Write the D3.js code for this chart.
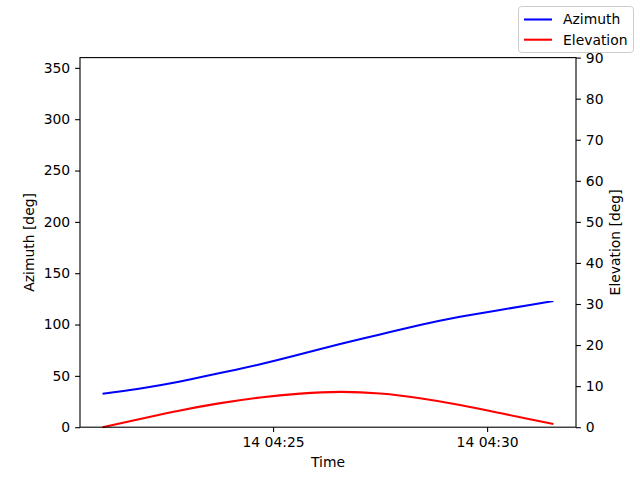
<!DOCTYPE html>
<html><head><meta charset="utf-8">
<script src="https://cdn.jsdelivr.net/npm/d3@7"></script>
<style>body{margin:0;background:#fff}svg{display:block;font-family:"DejaVu Sans",sans-serif}</style>
</head><body><svg id="c" width="640" height="480"></svg>
<script>
const times = ["04:21:01","04:21:52","04:22:48","04:23:44","04:24:42","04:25:38","04:26:34","04:27:30","04:28:26","04:29:22","04:30:18","04:31:00","04:31:33"];
const azimuth = [32.6,37.5,44.3,52.5,61.3,71.0,81.0,90.3,99.5,107.6,114.2,119.0,123.0];
const elevation = [0.0,1.95,4.02,5.8,7.25,8.18,8.6,8.2,7.05,5.4,3.45,1.95,0.78];
const xTicks = ["04:25:00","04:30:00"];
const azTicks = [0,50,100,150,200,250,300,350];
const elTicks = [0,10,20,30,40,50,60,70,80,90];

const parse = s => new Date("2021-01-14T" + s + "Z");
const fmt = d3.utcFormat("%d %H:%M");
const svg = d3.select("#c");
const L=80,R=576,T=57.6,B=427.2;
const t = times.map(parse);
const span = t[t.length-1]-t[0];
const x = d3.scaleUtc().domain([new Date(+t[0]-span*0.05), new Date(+t[t.length-1]+span*0.05)]).range([L,R]);
const yA = d3.scaleLinear().domain([0,360]).range([B,T]);
const yE = d3.scaleLinear().domain([0,90]).range([B,T]);

function style(g){
  g.selectAll(".domain").remove();
  g.selectAll("line").attr("stroke","#000").attr("stroke-width",1.1);
  g.selectAll("text").attr("font-size","13.9px").attr("fill","#000").attr("font-family","DejaVu Sans");
}
svg.append("g").attr("transform",`translate(0,${B})`)
  .call(d3.axisBottom(x).tickValues(xTicks.map(parse)).tickFormat(fmt).tickSize(4.9).tickPadding(4.9)).call(style);
svg.append("g").attr("transform",`translate(${L},0)`)
  .call(d3.axisLeft(yA).tickValues(azTicks).tickSize(4.9).tickPadding(4.9)).call(style);
svg.append("g").attr("transform",`translate(${R},0)`)
  .call(d3.axisRight(yE).tickValues(elTicks).tickSize(4.9).tickPadding(4.9)).call(style);

const curve = d3.curveNatural;
svg.append("path").datum(azimuth).attr("fill","none").attr("stroke","#0000ff").attr("stroke-width",2.08)
  .attr("d", d3.line().x((d,i)=>x(t[i])).y(d=>yA(d)).curve(curve));
svg.append("path").datum(elevation).attr("fill","none").attr("stroke","#ff0000").attr("stroke-width",2.08)
  .attr("d", d3.line().x((d,i)=>x(t[i])).y(d=>yE(d)).curve(curve));

svg.append("rect").attr("x",L).attr("y",T).attr("width",R-L).attr("height",B-T)
  .attr("fill","none").attr("stroke","#000").attr("stroke-width",1.1);

svg.append("text").attr("x",(L+R)/2).attr("y",467).attr("text-anchor","middle").attr("font-size","13.9px").text("Time");
svg.append("text").attr("transform",`translate(34,${(T+B)/2}) rotate(-90)`).attr("text-anchor","middle").attr("font-size","13.9px").text("Azimuth [deg]");
svg.append("text").attr("transform",`translate(620,${(T+B)/2}) rotate(-90)`).attr("text-anchor","middle").attr("font-size","13.9px").text("Elevation [deg]");

// legend
const lg = svg.append("g");
lg.append("rect").attr("x",518.5).attr("y",6.5).attr("width",115).attr("height",46).attr("rx",3)
  .attr("fill","#fff").attr("fill-opacity",0.8).attr("stroke","#ccc").attr("stroke-width",1);
const items = [["Azimuth","#0000ff"],["Elevation","#ff0000"]];
items.forEach((it,i)=>{
  const yy = 19.5 + i*20.2;
  lg.append("line").attr("x1",524).attr("x2",552).attr("y1",yy).attr("y2",yy).attr("stroke",it[1]).attr("stroke-width",2.08);
  lg.append("text").attr("x",563).attr("y",yy+4.9).attr("font-size","13.9px").text(it[0]);
});
</script></body></html>
